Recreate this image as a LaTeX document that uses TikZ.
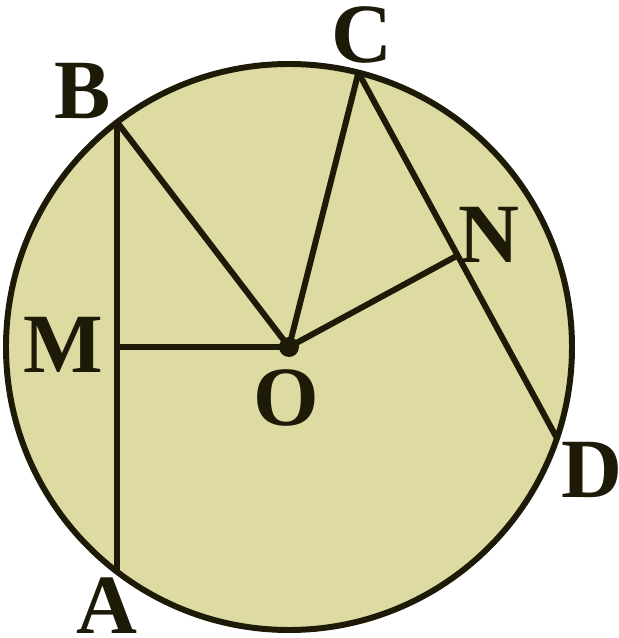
\documentclass[tikz,border=0pt]{standalone}
\usepackage{fontspec}
\setmainfont{Liberation Serif}
\usetikzlibrary{calc}
\definecolor{discfill}{RGB}{222,219,162}
\definecolor{inkline}{RGB}{30,26,8}
\tikzset{
  chord/.style={inkline,line width=1.7pt},
  ptlabel/.style={inkline,font=\fontsize{24}{28}\selectfont\bfseries,inner sep=0pt}
}
\begin{document}
\begin{tikzpicture}[line join=round]
  \useasboundingbox (-2.89,-2.91) rectangle (3.30,3.47);
  \coordinate (O) at (0,0);
  \coordinate (B) at (127.4:2.83);
  \coordinate (A) at (232.6:2.83);
  \coordinate (C) at (75.8:2.83);
  \coordinate (D) at (-18.8:2.83);
  \coordinate (M) at ($(A)!0.5!(B)$);
  \coordinate (N) at ($(C)!0.5!(D)$);
  % the disc and its rim
  \fill[discfill] (O) circle[radius=2.83];
  \draw[chord] (O) circle[radius=2.83];
  % chords and the radii to them
  \draw[chord] (B) -- (A);
  \draw[chord] (C) -- (D);
  \draw[chord] (M) -- (O) -- (N);
  \draw[chord] (B) -- (O) -- (C);
  \fill[inkline] (O) circle[radius=0.1];
  \node[ptlabel] (labB) at (-2.06,2.56) {B};
  \node[ptlabel] (labC) at (0.73,3.12) {C};
  \node[ptlabel] (labN) at (2.00,1.12) {N};
  \node[ptlabel] (labM) at (-2.26,0.02) {M};
  \node[ptlabel] (labO) at (-0.03,-0.51) {O};
  \node[ptlabel] (labD) at (3.03,-1.23) {D};
  \node[ptlabel] (labA) at (-1.82,-2.59) {A};
\end{tikzpicture}
\end{document}
